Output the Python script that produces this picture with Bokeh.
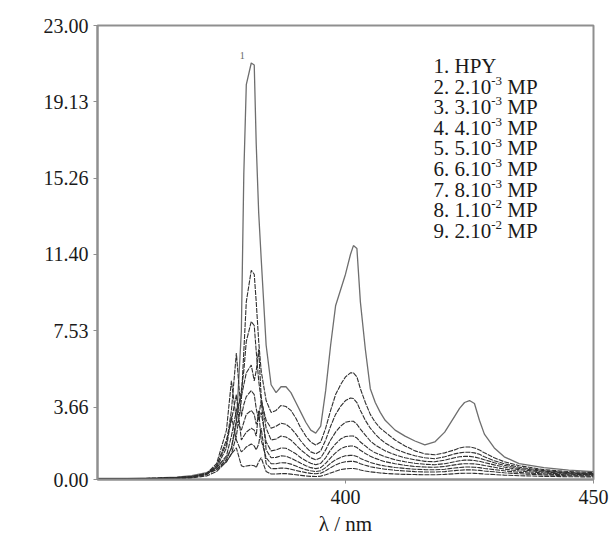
import math
from bokeh.plotting import figure
from bokeh.models import FixedTicker, Label, Range1d, NumeralTickFormatter
from bokeh.embed import file_html
from bokeh.resources import INLINE

# ---------------- data ----------------
wavelength = [350, 356, 362, 366, 369, 372, 374, 376, 377, 378, 379, 379.5, 380, 381, 381.6,
              382, 382.5, 383, 384, 385, 386, 387, 388, 389, 390, 391, 392, 393, 394, 395,
              396, 397, 398, 399, 400, 401, 401.6, 402.3, 403, 404, 405, 406, 407, 408, 410,
              412, 414, 416, 418, 420, 422, 423, 424, 425, 426, 427, 428, 430, 432, 435,
              440, 445, 450]

hpy = [0.05, 0.05, 0.08, 0.12, 0.2, 0.35, 0.6, 1.1, 1.6, 2.8, 7.5, 15.5, 20.0, 21.1, 21.0,
       17.0, 13.5, 11.2, 6.8, 4.8, 4.4, 4.7, 4.7, 4.4, 3.9, 3.4, 2.9, 2.5, 2.35, 2.7,
       4.5, 6.8, 8.8, 9.6, 10.4, 11.4, 11.85, 11.7, 9.0, 6.6, 4.6, 3.9, 3.4, 3.0, 2.5,
       2.2, 1.95, 1.75, 1.9, 2.4, 3.2, 3.6, 3.9, 4.0, 3.85, 3.0, 2.3, 1.6, 1.15, 0.8,
       0.6, 0.48, 0.4]

mp_2e3 = [0.04, 0.04, 0.06, 0.1, 0.15, 0.3, 0.5, 0.9, 1.3, 2.2, 4.0, 6.5, 9.0, 10.6, 10.4,
          9.0, 7.0, 5.5, 4.0, 3.4, 3.5, 3.75, 3.7, 3.5, 3.1, 2.6, 2.2, 1.9, 1.75, 1.9,
          2.6, 3.5, 4.3, 4.8, 5.2, 5.4, 5.4, 5.2, 4.6, 3.9, 3.3, 2.9, 2.6, 2.4, 2.0,
          1.7, 1.45, 1.3, 1.25, 1.35, 1.5, 1.6, 1.65, 1.65, 1.6, 1.5, 1.35, 1.1, 0.9, 0.7,
          0.5, 0.4, 0.35]

mp_3e3 = [0.04, 0.04, 0.06, 0.1, 0.15, 0.3, 0.5, 1.0, 1.6, 3.0, 4.5, 5.5, 7.0, 8.0, 7.8,
          6.5, 5.0, 4.0, 3.0, 2.6, 2.7, 2.85, 2.8, 2.6, 2.3, 1.95, 1.65, 1.4, 1.3, 1.45,
          2.0, 2.7, 3.3, 3.7, 4.0, 4.13, 4.1, 3.9, 3.5, 3.0, 2.6, 2.3, 2.05, 1.85, 1.55,
          1.35, 1.2, 1.1, 1.05, 1.15, 1.3, 1.35, 1.38, 1.38, 1.35, 1.28, 1.15, 0.95, 0.8, 0.62,
          0.45, 0.35, 0.3]

mp_4e3 = [0.03, 0.04, 0.06, 0.1, 0.15, 0.3, 0.6, 1.2, 2.2, 3.5, 4.2, 4.8, 5.4, 5.8, 5.0,
          5.5, 6.6, 4.2, 2.6, 2.0, 2.05, 2.2, 2.15, 2.0, 1.75, 1.5, 1.3, 1.1, 1.0, 1.1,
          1.5, 2.0, 2.4, 2.7, 2.9, 2.95, 2.95, 2.8, 2.55, 2.25, 1.95, 1.75, 1.6, 1.45, 1.25,
          1.1, 1.0, 0.92, 0.9, 0.98, 1.1, 1.15, 1.17, 1.17, 1.14, 1.08, 1.0, 0.85, 0.72, 0.56,
          0.42, 0.33, 0.28]

mp_5e3 = [0.03, 0.03, 0.05, 0.08, 0.12, 0.3, 0.7, 1.8, 3.5, 6.4, 3.2, 3.8, 4.2, 4.5, 4.3,
          3.6, 3.0, 3.4, 1.9, 1.45, 1.5, 1.6, 1.58, 1.45, 1.3, 1.1, 0.95, 0.82, 0.75, 0.82,
          1.1, 1.5, 1.8, 2.05, 2.18, 2.2, 2.2, 2.1, 1.9, 1.7, 1.5, 1.35, 1.25, 1.15, 1.0,
          0.9, 0.82, 0.77, 0.75, 0.8, 0.9, 0.95, 0.98, 0.98, 0.96, 0.92, 0.86, 0.74, 0.63, 0.5,
          0.38, 0.3, 0.26]

mp_6e3 = [0.03, 0.03, 0.05, 0.08, 0.12, 0.3, 0.8, 2.5, 5.0, 3.0, 2.5, 2.9, 3.3, 3.5, 3.3,
          2.8, 3.2, 4.0, 1.5, 1.1, 1.12, 1.2, 1.18, 1.08, 0.95, 0.82, 0.7, 0.6, 0.55, 0.6,
          0.82, 1.1, 1.35, 1.55, 1.66, 1.7, 1.7, 1.62, 1.48, 1.32, 1.18, 1.07, 0.98, 0.9, 0.8,
          0.72, 0.66, 0.63, 0.62, 0.66, 0.74, 0.78, 0.8, 0.8, 0.79, 0.76, 0.71, 0.62, 0.53, 0.43,
          0.33, 0.27, 0.24]

mp_8e3 = [0.02, 0.03, 0.04, 0.07, 0.1, 0.25, 0.7, 2.0, 3.0, 4.3, 2.0, 2.2, 2.4, 2.6, 2.5,
          2.2, 3.5, 2.0, 1.1, 0.8, 0.8, 0.85, 0.84, 0.78, 0.68, 0.58, 0.5, 0.44, 0.4, 0.44,
          0.6, 0.82, 1.0, 1.12, 1.2, 1.22, 1.22, 1.17, 1.07, 0.96, 0.86, 0.79, 0.73, 0.68, 0.61,
          0.56, 0.52, 0.5, 0.49, 0.52, 0.58, 0.61, 0.63, 0.63, 0.62, 0.6, 0.56, 0.5, 0.44, 0.36,
          0.28, 0.23, 0.21]

mp_1e2 = [0.02, 0.02, 0.04, 0.06, 0.1, 0.25, 0.6, 1.6, 3.2, 2.0, 1.4, 1.5, 1.65, 1.8, 1.7,
          1.5, 1.8, 2.6, 0.8, 0.55, 0.55, 0.58, 0.57, 0.52, 0.46, 0.4, 0.35, 0.31, 0.29, 0.32,
          0.44, 0.6, 0.74, 0.84, 0.9, 0.92, 0.92, 0.88, 0.8, 0.72, 0.65, 0.6, 0.56, 0.52, 0.47,
          0.43, 0.4, 0.38, 0.38, 0.4, 0.45, 0.47, 0.49, 0.49, 0.48, 0.46, 0.43, 0.39, 0.34, 0.29,
          0.23, 0.19, 0.17]

mp_2e2 = [0.02, 0.02, 0.03, 0.05, 0.08, 0.18, 0.4, 0.9, 1.3, 1.6, 0.7, 0.65, 0.68, 0.72, 0.7,
          0.6, 0.9, 1.1, 0.4, 0.28, 0.28, 0.3, 0.3, 0.27, 0.24, 0.21, 0.18, 0.16, 0.15, 0.17,
          0.24, 0.33, 0.42, 0.5, 0.54, 0.56, 0.56, 0.53, 0.48, 0.43, 0.39, 0.36, 0.33, 0.31, 0.28,
          0.26, 0.25, 0.24, 0.24, 0.26, 0.29, 0.31, 0.32, 0.32, 0.31, 0.3, 0.28, 0.25, 0.22, 0.19,
          0.16, 0.14, 0.13]

series = [hpy, mp_2e3, mp_3e3, mp_4e3, mp_5e3, mp_6e3, mp_8e3, mp_1e2, mp_2e2]

y_ticks = [0.00, 3.66, 7.53, 11.40, 15.26, 19.13, 23.00]
x_ticks = [400, 450]

legend_prefix = ["1. HPY", "2. 2.10", "3. 3.10", "4. 4.10", "5. 5.10",
                 "6. 6.10", "7. 8.10", "8. 1.10", "9. 2.10"]
legend_sup = ["", "-3", "-3", "-3", "-3", "-3", "-3", "-2", "-2"]
legend_suffix = ["", "MP", "MP", "MP", "MP", "MP", "MP", "MP", "MP"]

# ---------------- layout helpers ----------------
FONT = "Liberation Serif"
X0, X1 = 350, 450
Y0, Y1 = 0, 23
W, H = 610, 538
FRAME_L, FRAME_R = 97, 593      # in page pixels
FRAME_T, FRAME_B = 25, 482
PX_X = (X1 - X0) / (FRAME_R - FRAME_L)
PX_Y = (Y1 - Y0) / (FRAME_B - FRAME_T)


def dx(px):
    return X0 + (px - FRAME_L) * PX_X


def dy(py):
    return Y0 + (FRAME_B - py) * PX_Y


TIMES_W = {**{d: 500 for d in "0123456789"}, ".": 250, " ": 250, "-": 333,
           "M": 889, "P": 556, "H": 722, "Y": 722}


def text_w(s, size):
    return sum(TIMES_W.get(c, 500) for c in s) / 1000.0 * size


p = figure(width=W, height=H, x_range=Range1d(X0, X1), y_range=Range1d(Y0, Y1),
           output_backend="svg", toolbar_location=None,
           min_border_left=FRAME_L, min_border_right=W - FRAME_R,
           min_border_top=FRAME_T, min_border_bottom=H - FRAME_B)

p.background_fill_color = "white"
p.border_fill_color = "white"
p.outline_line_color = "#8f8f8f"
p.outline_line_width = 2
p.xgrid.visible = False
p.ygrid.visible = False

# curves
for i, ys in enumerate(series):
    if i == 0:
        p.line(wavelength, ys, line_color="#6e6e6e", line_width=1.3)
    else:
        p.line(wavelength, ys, line_color="#303030", line_width=1.1, line_dash="5 1")

# axes
for ax in (p.xaxis[0], p.yaxis[0]):
    ax.axis_line_color = "#8f8f8f"
    ax.axis_line_width = 2
    ax.major_tick_line_color = "#8f8f8f"
    ax.major_tick_out = 4
    ax.major_tick_in = 0
    ax.minor_tick_out = 0
    ax.minor_tick_in = 0
    ax.major_label_text_font = FONT
    ax.major_label_text_font_size = "20px"
    ax.major_label_text_color = "#1a1a1a"
    ax.axis_label_text_font = FONT
    ax.axis_label_text_font_size = "21px"
    ax.axis_label_text_font_style = "normal"
    ax.axis_label_text_color = "#1a1a1a"

p.xaxis[0].ticker = FixedTicker(ticks=x_ticks)
p.yaxis[0].ticker = FixedTicker(ticks=y_ticks)
p.yaxis[0].formatter = NumeralTickFormatter(format="0.00")
p.xaxis[0].major_label_standoff = 6
p.yaxis[0].major_label_standoff = 5
p.xaxis[0].axis_label = "λ / nm"
p.xaxis[0].axis_label_standoff = 5

# y-axis title (placed slightly above the frame centre as in the reference)
p.add_layout(Label(x=dx(22), y=dy(230), text="Fluorescence Intensity", angle=math.pi / 2,
                   text_font=FONT, text_font_size="22px", text_color="#1a1a1a",
                   text_align="center", text_baseline="middle"))

# curve number label
p.add_layout(Label(x=dx(241.7), y=dy(55), text="1", text_font=FONT, text_font_size="10px",
                   text_color="#666666", text_align="center", text_baseline="middle"))

# legend text block
LX = 433.0
LY = 66.0
LSTEP = 20.7
MAIN = 21
SUP = 13
for i in range(len(legend_prefix)):
    yc = LY + i * LSTEP
    p.add_layout(Label(x=dx(LX), y=dy(yc), text=legend_prefix[i], text_font=FONT,
                       text_font_size=f"{MAIN}px", text_color="#1a1a1a",
                       text_align="left", text_baseline="middle"))
    if legend_sup[i]:
        w1 = text_w(legend_prefix[i], MAIN)
        p.add_layout(Label(x=dx(LX + w1), y=dy(yc - 6), text=legend_sup[i], text_font=FONT,
                           text_font_size=f"{SUP}px", text_color="#1a1a1a",
                           text_align="left", text_baseline="middle"))
        w2 = text_w(legend_sup[i], SUP) + text_w(" ", MAIN)
        p.add_layout(Label(x=dx(LX + w1 + w2), y=dy(yc), text=legend_suffix[i], text_font=FONT,
                           text_font_size=f"{MAIN}px", text_color="#1a1a1a",
                           text_align="left", text_baseline="middle"))

open("out.html", "w").write(file_html(p, INLINE))
